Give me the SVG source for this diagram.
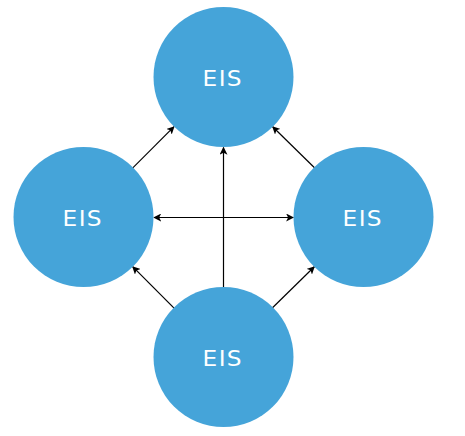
<svg xmlns="http://www.w3.org/2000/svg" width="465" height="436" viewBox="0 0 465 436">
<style>
.n{fill:#45a4d9}
.t{fill:#fff;font-family:"DejaVu Sans",Verdana,sans-serif;font-size:20.6px;text-anchor:middle;letter-spacing:1.2px}
.c{stroke:#000;stroke-width:1.2;fill:none}
</style>
<defs>
<marker id="a" viewBox="0 0 10 10" refX="9" refY="5" markerWidth="8" markerHeight="8" markerUnits="userSpaceOnUse" orient="auto-start-reverse">
<path d="M0,0 L10,5 L0,10 L2.5,5 Z" fill="#000"/>
</marker>
</defs>
<rect width="465" height="436" fill="#fff"/>
<g id="connectors">
<line class="c" x1="132.3" y1="168.3" x2="174" y2="126.7" marker-end="url(#a)"/>
<line class="c" x1="315" y1="168.3" x2="272.7" y2="126.7" marker-end="url(#a)"/>
<line class="c" x1="174.3" y1="308.3" x2="132.7" y2="266.7" marker-end="url(#a)"/>
<line class="c" x1="272" y1="308.3" x2="314.3" y2="266.7" marker-end="url(#a)"/>
<line class="c" x1="223.5" y1="287" x2="223.5" y2="147.5" marker-end="url(#a)"/>
<line class="c" x1="154" y1="217.5" x2="293.3" y2="217.5" marker-start="url(#a)" marker-end="url(#a)"/>
</g>
<g id="top"><circle class="n" cx="223.5" cy="77" r="70"/><text class="t" transform="translate(222.8 85.7) scale(1.13 1)">EIS</text></g>
<g id="left"><circle class="n" cx="83.5" cy="217" r="70"/><text class="t" transform="translate(82.8 225.7) scale(1.13 1)">EIS</text></g>
<g id="right"><circle class="n" cx="363.5" cy="217" r="70"/><text class="t" transform="translate(362.8 225.7) scale(1.13 1)">EIS</text></g>
<g id="bottom"><circle class="n" cx="223.5" cy="357" r="70"/><text class="t" transform="translate(222.8 365.7) scale(1.13 1)">EIS</text></g>
</svg>
